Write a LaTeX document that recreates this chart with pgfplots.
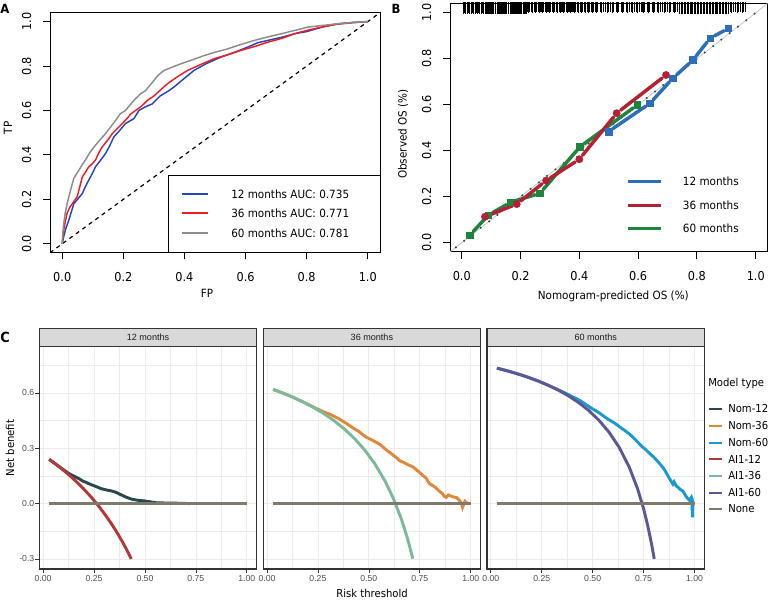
\documentclass[border=0pt]{standalone}
\usepackage{pgfplots}
\pgfplotsset{compat=1.18}
\usepackage{fontspec}
\setmainfont{DejaVu Sans}[FakeStretch=0.92]
\newfontfamily\ggfont{Liberation Sans}
\definecolor{rocblue}{RGB}{35,70,190}
\definecolor{rocred}{RGB}{238,30,36}
\definecolor{rocgray}{RGB}{140,140,140}
\definecolor{calblue}{RGB}{45,110,185}
\definecolor{calred}{RGB}{180,32,52}
\definecolor{calgreen}{RGB}{30,132,62}
\definecolor{calx}{RGB}{70,110,225}
\definecolor{dotc}{RGB}{40,70,65}
\definecolor{diaggray}{RGB}{200,200,200}
\definecolor{gg92}{RGB}{235,235,235}
\definecolor{gg85}{RGB}{217,217,217}
\definecolor{gg20}{RGB}{51,51,51}
\definecolor{gg30}{RGB}{77,77,77}
\definecolor{gg10}{RGB}{26,26,26}
\definecolor{nom12}{RGB}{40,72,78}
\definecolor{nom36}{RGB}{224,136,58}
\definecolor{nom60}{RGB}{28,154,206}
\definecolor{ai12}{RGB}{178,56,58}
\definecolor{ai36}{RGB}{126,184,154}
\definecolor{ai60}{RGB}{92,88,150}
\definecolor{nonec}{RGB}{128,122,108}
\newcommand\tickfont{\fontsize{9.2}{11}\selectfont}
\newcommand\labfont{\fontsize{8.5}{10}\selectfont}
\newcommand\ggtick{\ggfont\fontsize{6.5}{7.5}\selectfont}
\newcommand\ggstrip{\ggfont\fontsize{6.8}{8}\selectfont}
\newcommand\gglab{\fontsize{8.2}{10}\selectfont}
\pgfplotsset{
 rbase/.style={scale only axis, anchor=north west,
  xmin=-0.04,xmax=1.04,ymin=-0.04,ymax=1.04,
  axis line style={black,line width=0.75pt},
  tick align=outside, tick pos=left, major tick length=5pt,
  tick style={black,line width=0.75pt},
  xtick={0,0.2,0.4,0.6,0.8,1}, ytick={0,0.2,0.4,0.6,0.8,1},
  xticklabels={0.0,0.2,0.4,0.6,0.8,1.0}, yticklabels={0.0,0.2,0.4,0.6,0.8,1.0},
  xticklabel style={font=\tickfont, anchor=center, yshift=-13.2pt},
  yticklabel style={font=\tickfont, xshift=-12.5pt, rotate=90, anchor=center},
 },
 ggpanel/.style={scale only axis, anchor=north west, width=163.05pt, height=167.25pt,
  xmin=-0.0185, xmax=1.0485, ymin=-0.355, ymax=0.855,
  axis line style={draw=gg20,line width=0.8pt},
  xtick={0,0.25,0.5,0.75,1}, xticklabels={0.00,0.25,0.50,0.75,1.00},
  ytick={-0.3,0,0.3,0.6},
  minor xtick={0.125,0.375,0.625,0.875}, minor ytick={-0.15,0.15,0.45,0.75},
  grid=both, major grid style={draw=gg92,line width=0.55pt},
  minor grid style={draw=gg92,line width=0.3pt},
  tick align=outside, tick pos=left, major tick length=3pt, minor tick length=0pt,
  tick style={draw=gg20,line width=0.5pt},
  xticklabel style={font=\ggtick, text=gg30, anchor=center, yshift=-4pt},
  title style={at={(0.5,1)}, anchor=south, yshift=-6.75pt, fill=gg85, draw=gg20, line width=0.8pt,
   minimum width=163.05pt, minimum height=13.3pt, inner sep=0pt, font=\ggstrip, text=gg10},
 },
}
\begin{document}
\begin{tikzpicture}
\useasboundingbox (0,0) rectangle (578.25pt,-450.75pt);
% ---------------- Panel A ----------------
\begin{axis}[rbase, at={(37.5pt,-9.525pt)}, width=247.5pt, height=180pt]
\addplot[black, line width=0.9pt, dash pattern=on 3pt off 3pt] coordinates {(-0.04,-0.04)(1.04,1.04)};
\addplot[rocblue, line width=1.1pt] coordinates {
(0,0)(0.003,0.02)(0.005,0.033)(0.012,0.07)(0.022,0.108)(0.03,0.145)(0.038,0.18)(0.05,0.2)(0.066,0.227)(0.075,0.255)(0.087,0.287)(0.098,0.315)(0.109,0.347)(0.125,0.375)(0.142,0.407)(0.155,0.44)(0.169,0.481)(0.188,0.51)(0.207,0.541)(0.235,0.564)(0.251,0.6)(0.27,0.615)(0.295,0.63)(0.32,0.665)(0.35,0.69)(0.366,0.706)(0.4,0.745)(0.431,0.78)(0.47,0.81)(0.519,0.84)(0.56,0.86)(0.607,0.885)(0.64,0.905)(0.672,0.915)(0.72,0.93)(0.759,0.945)(0.8,0.955)(0.85,0.975)(0.9,0.99)(0.95,0.996)(1,1)};
\addplot[rocred, line width=1.1pt] coordinates {
(0,0)(0.003,0.04)(0.005,0.063)(0.01,0.1)(0.016,0.138)(0.025,0.165)(0.033,0.18)(0.049,0.212)(0.058,0.26)(0.066,0.302)(0.075,0.32)(0.087,0.347)(0.098,0.36)(0.109,0.377)(0.12,0.41)(0.131,0.436)(0.148,0.465)(0.164,0.496)(0.185,0.525)(0.207,0.556)(0.225,0.585)(0.24,0.6)(0.26,0.62)(0.279,0.646)(0.3,0.665)(0.32,0.69)(0.344,0.72)(0.375,0.75)(0.41,0.78)(0.45,0.805)(0.497,0.833)(0.54,0.85)(0.584,0.87)(0.63,0.888)(0.672,0.907)(0.72,0.925)(0.759,0.945)(0.8,0.96)(0.847,0.975)(0.9,0.988)(0.95,0.995)(1,1)};
\addplot[rocgray, line width=1.1pt] coordinates {
(0,0)(0.002,0.05)(0.005,0.093)(0.01,0.14)(0.016,0.18)(0.025,0.23)(0.038,0.295)(0.054,0.33)(0.065,0.355)(0.076,0.377)(0.09,0.41)(0.109,0.444)(0.125,0.47)(0.142,0.496)(0.158,0.525)(0.175,0.556)(0.19,0.585)(0.207,0.6)(0.225,0.63)(0.24,0.653)(0.257,0.676)(0.273,0.69)(0.3,0.735)(0.315,0.76)(0.333,0.78)(0.36,0.795)(0.388,0.81)(0.42,0.825)(0.464,0.847)(0.5,0.862)(0.541,0.877)(0.58,0.895)(0.628,0.915)(0.67,0.93)(0.716,0.945)(0.76,0.96)(0.803,0.975)(0.847,0.982)(0.9,0.99)(0.95,0.996)(1,1)};
\end{axis}
% legend A
\draw[black, line width=0.75pt, fill=white] (126.2pt,-131.25pt) rectangle (285pt,-189.525pt);
\draw[rocblue, line width=2pt] (136.5pt,-145.5pt) -- (156pt,-145.5pt);
\draw[rocred, line width=2pt] (136.5pt,-159.75pt) -- (156pt,-159.75pt);
\draw[rocgray, line width=2pt] (136.5pt,-174.75pt) -- (156pt,-174.75pt);
\node[anchor=west, inner sep=0pt, font=\labfont] at (173.25pt,-145.5pt) {12 months AUC: 0.735};
\node[anchor=west, inner sep=0pt, font=\labfont] at (173.25pt,-159.75pt) {36 months AUC: 0.771};
\node[anchor=west, inner sep=0pt, font=\labfont] at (173.25pt,-174.75pt) {60 months AUC: 0.781};
\node[font=\labfont] at (155.25pt,-219.75pt) {FP};
\node[font=\labfont, rotate=90] at (6pt,-96pt) {TP};
\node[font=\bfseries\fontsize{9.5}{11}\selectfont] at (3.75pt,-6.75pt) {A};
% ---------------- Panel B ----------------
\begin{axis}[rbase, at={(337.5pt,-2.625pt)}, width=238.125pt, height=186.3pt, clip=false, unbounded coords=jump]
\addplot[diaggray, line width=0.6pt] coordinates {(-0.04,-0.04)(1.04,1.04)};
\addplot[dotc, line width=1.7pt, line cap=round, dash pattern=on 0pt off 7.9pt] coordinates {(-0.02,-0.02)(1.02,1.02)};
\addplot[only marks, mark=|, mark size=4.5pt, black, mark options={line width=0.55pt}] coordinates {
(0.005,1.02)(0.012,1.02)(0.018,1.02)(0.026,1.02)(0.031,1.02)(0.039,1.02)(0.046,1.02)(0.052,1.02)(0.061,1.02)(0.067,1.02)(0.074,1.02)
(0.080,1.02)(0.083,1.02)(0.087,1.02)(0.091,1.02)(0.094,1.02)(0.098,1.02)(0.102,1.02)(0.105,1.02)(0.109,1.02)(0.113,1.02)(0.116,1.02)(0.120,1.02)(0.124,1.02)(0.127,1.02)(0.131,1.02)(0.135,1.02)(0.138,1.02)(0.142,1.02)(0.146,1.02)(0.149,1.02)(0.153,1.02)(0.157,1.02)(0.160,1.02)(0.164,1.02)(0.168,1.02)(0.171,1.02)(0.175,1.02)(0.179,1.02)(0.182,1.02)(0.186,1.02)(0.190,1.02)(0.193,1.02)(0.197,1.02)(0.201,1.02)(0.204,1.02)(0.208,1.02)(0.212,1.02)(0.215,1.02)(0.219,1.02)
(0.741,1.02)(0.746,1.02)(0.751,1.02)(0.756,1.02)(0.761,1.02)(0.766,1.02)(0.771,1.02)(0.776,1.02)(0.781,1.02)(0.786,1.02)(0.791,1.02)(0.796,1.02)(0.801,1.02)(0.806,1.02)(0.811,1.02)(0.816,1.02)(0.821,1.02)(0.826,1.02)(0.831,1.02)(0.836,1.02)(0.841,1.02)(0.846,1.02)(0.851,1.02)(0.856,1.02)(0.861,1.02)(0.866,1.02)(0.871,1.02)(0.876,1.02)(0.881,1.02)(0.886,1.02)(0.891,1.02)(0.896,1.02)(0.901,1.02)(0.906,1.02)};
\addplot[only marks, mark=|, mark size=3.8pt, black, mark options={line width=0.8pt}] coordinates {
(0.225,1.024)(0.231,1.024)(0.236,1.024)(0.242,1.024)(0.249,1.024)(0.254,1.024)(0.260,1.024)(0.267,1.024)(0.272,1.024)(0.278,1.024)(0.285,1.024)(0.290,1.024)(0.296,1.024)(0.303,1.024)(0.308,1.024)(0.314,1.024)(0.321,1.024)(0.326,1.024)(0.332,1.024)(0.339,1.024)(0.344,1.024)(0.350,1.024)(0.357,1.024)(0.362,1.024)(0.368,1.024)(0.375,1.024)(0.380,1.024)(0.386,1.024)(0.393,1.024)(0.398,1.024)(0.404,1.024)(0.411,1.024)(0.416,1.024)(0.422,1.024)(0.429,1.024)(0.434,1.024)(0.440,1.024)(0.447,1.024)
(0.455,1.024)(0.463,1.024)(0.472,1.024)(0.481,1.024)(0.490,1.024)(0.499,1.024)(0.507,1.024)(0.516,1.024)(0.525,1.024)(0.534,1.024)(0.543,1.024)(0.551,1.024)(0.560,1.024)(0.569,1.024)(0.578,1.024)(0.587,1.024)(0.595,1.024)(0.604,1.024)(0.613,1.024)(0.622,1.024)(0.631,1.024)(0.639,1.024)(0.648,1.024)(0.657,1.024)(0.666,1.024)(0.675,1.024)(0.683,1.024)(0.692,1.024)(0.701,1.024)(0.710,1.024)(0.719,1.024)(0.727,1.024)(0.735,1.024)
(0.914,1.024)(0.923,1.024)(0.931,1.024)(0.940,1.024)(0.949,1.024)(0.958,1.024)(0.966,1.024)};
\addplot[only marks, mark=|, mark size=4.2pt, black, mark options={line width=0.55pt}] coordinates {
(0.009,1.022)(0.022,1.022)(0.035,1.022)(0.049,1.022)(0.057,1.022)(0.070,1.022)
(0.228,1.022)(0.239,1.022)(0.252,1.022)(0.263,1.022)(0.275,1.022)(0.288,1.022)(0.299,1.022)(0.311,1.022)(0.324,1.022)(0.335,1.022)(0.347,1.022)(0.360,1.022)(0.371,1.022)(0.383,1.022)(0.396,1.022)(0.407,1.022)(0.419,1.022)(0.432,1.022)(0.443,1.022)
(0.459,1.022)(0.476,1.022)(0.494,1.022)(0.511,1.022)(0.529,1.022)(0.547,1.022)(0.564,1.022)(0.582,1.022)(0.599,1.022)(0.617,1.022)(0.635,1.022)(0.652,1.022)(0.670,1.022)(0.688,1.022)(0.705,1.022)(0.723,1.022)(0.918,1.022)(0.936,1.022)(0.953,1.022)};
% calibration lines (gaps at points)
\addplot[calgreen, line width=2.6pt, line cap=round] coordinates {
(0.0394,0.0491)(0.0786,0.1039)(nan,nan)(0.1048,0.1308)(0.1522,0.1653)(nan,nan)(0.1832,0.1824)(0.2498,0.2086)(nan,nan)(0.2771,0.2315)(0.3909,0.4005)(nan,nan)(0.4157,0.4298)(0.5833,0.5862)};
\addplot[calred, line width=2.6pt, line cap=round] coordinates {
(0.0948,0.1210)(0.1712,0.1600)(nan,nan)(0.2003,0.1816)(0.2737,0.2564)(nan,nan)(0.3013,0.2818)(0.3857,0.3512)(nan,nan)(0.4107,0.3799)(0.5163,0.5461)(nan,nan)(0.5405,0.5763)(0.6815,0.7157)};
\addplot[calblue, line width=2.6pt, line cap=round] coordinates {
(0.5130,0.4953)(0.6260,0.5938)(nan,nan)(0.6515,0.6220)(0.7065,0.6990)(nan,nan)(0.7306,0.7296)(0.7734,0.7794)(nan,nan)(0.7966,0.8110)(0.8344,0.8720)(nan,nan)(0.8600,0.8994)(0.8920,0.9216)};
\addplot[only marks, mark=x, mark size=3.1pt, calx, mark options={line width=0.45pt}] coordinates {(0.028,0.033)(0.09,0.12)(0.167,0.176)(0.266,0.215)(0.402,0.417)(0.597,0.599)(0.079,0.113)(0.187,0.168)(0.287,0.27)(0.4,0.363)(0.527,0.563)(0.695,0.729)(0.499,0.483)(0.64,0.606)(0.718,0.715)(0.786,0.794)(0.845,0.889)(0.907,0.932)};
\addplot[only marks, mark=square*, mark size=2.5pt, calgreen] coordinates {(0.028,0.033)(0.09,0.12)(0.167,0.176)(0.266,0.215)(0.402,0.417)(0.597,0.599)};
\addplot[only marks, mark=*, mark size=2.7pt, calred] coordinates {(0.079,0.113)(0.187,0.168)(0.287,0.27)(0.4,0.363)(0.527,0.563)(0.695,0.729)};
\addplot[only marks, mark=square*, mark size=2.5pt, calblue] coordinates {(0.499,0.483)(0.64,0.606)(0.718,0.715)(0.786,0.794)(0.845,0.889)(0.907,0.932)};
\end{axis}
\draw[calblue, line width=2.5pt] (470.8pt,-136pt) -- (495.75pt,-136pt);
\draw[calred, line width=2.5pt] (470.8pt,-154pt) -- (495.75pt,-154pt);
\draw[calgreen, line width=2.5pt] (470.8pt,-171.5pt) -- (495.75pt,-171.5pt);
\node[anchor=west, inner sep=0pt, font=\labfont] at (512pt,-136pt) {12 months};
\node[anchor=west, inner sep=0pt, font=\labfont] at (512pt,-154pt) {36 months};
\node[anchor=west, inner sep=0pt, font=\labfont] at (512pt,-171.5pt) {60 months};
\node[font=\labfont] at (460pt,-222pt) {Nomogram-predicted OS (\%)};
\node[font=\labfont, rotate=90] at (302.25pt,-100.5pt) {Observed OS (\%)};
\node[font=\bfseries\fontsize{9.5}{11}\selectfont] at (297pt,-6.75pt) {B};
% ---------------- Panel C ----------------
\begin{axis}[ggpanel, at={(29.475pt,-259.5pt)}, title={12 months},
  yticklabels={-0.3,0.0,0.3,0.6}, yticklabel style={font=\ggtick, text=gg30, anchor=east, xshift=2.75pt}]
\addplot[nom12, line width=2.2pt] coordinates {
(0.030,0.240)(0.045,0.228)(0.06,0.216)(0.075,0.204)(0.09,0.192)(0.105,0.180)(0.12,0.168)(0.135,0.158)(0.15,0.150)(0.165,0.141)(0.18,0.133)(0.195,0.122)(0.21,0.116)(0.225,0.108)(0.24,0.101)(0.255,0.095)(0.27,0.088)(0.285,0.081)(0.30,0.077)(0.315,0.073)(0.33,0.070)(0.345,0.066)(0.36,0.060)(0.375,0.052)(0.39,0.044)(0.405,0.036)(0.42,0.030)(0.435,0.024)(0.45,0.021)(0.465,0.018)(0.48,0.016)(0.495,0.015)(0.51,0.012)(0.525,0.010)(0.54,0.007)(0.56,0.004)(0.58,0.004)(0.60,0.003)(0.63,0.003)(0.66,0.002)(0.69,0.001)(0.72,0.000)};
\addplot[ai12, line width=2.2pt] coordinates {
(0.03,0.2402)(0.06,0.2160)(0.09,0.1901)(0.12,0.1625)(0.15,0.1329)(0.18,0.1012)(0.21,0.0671)(0.24,0.0302)(0.27,-0.0096)(0.30,-0.0529)(0.33,-0.1000)(0.36,-0.1516)(0.39,-0.2082)(0.41,-0.2492)(0.433,-0.300)};
\addplot[nonec, line width=2pt] coordinates {(0.03,0)(1.0,0)};
\end{axis}
\begin{axis}[ggpanel, at={(197.4pt,-259.5pt)}, title={36 months}, yticklabels={}, major y tick style={draw=none}]
\addplot[nom36, line width=2.2pt] coordinates {
(0.03,0.6196)(0.08,0.5989)(0.13,0.5759)(0.18,0.550)(0.22,0.528)(0.25,0.512)(0.28,0.497)(0.30,0.489)(0.325,0.476)(0.35,0.462)(0.37,0.448)(0.39,0.435)(0.407,0.422)(0.43,0.405)(0.45,0.392)(0.47,0.374)(0.489,0.359)(0.51,0.348)(0.53,0.336)(0.554,0.322)(0.57,0.306)(0.585,0.292)(0.603,0.277)(0.62,0.262)(0.635,0.250)(0.652,0.232)(0.67,0.224)(0.69,0.212)(0.717,0.199)(0.735,0.182)(0.75,0.168)(0.766,0.151)(0.78,0.140)(0.79,0.120)(0.80,0.106)(0.815,0.097)(0.83,0.085)(0.845,0.068)(0.86,0.055)(0.87,0.040)(0.88,0.034)(0.89,0.047)(0.90,0.042)(0.915,0.036)(0.93,0.033)(0.94,0.022)(0.946,0.016)(0.953,0.004)(0.96,-0.020)(0.965,-0.005)(0.972,0.012)(0.978,0.004)(0.985,0.002)};
\addplot[ai36, line width=2.2pt] coordinates {
(0.03,0.6196)(0.08,0.5989)(0.13,0.5759)(0.18,0.550)(0.23,0.5208)(0.28,0.4875)(0.33,0.4493)(0.38,0.4048)(0.43,0.3526)(0.48,0.2904)(0.53,0.2149)(0.58,0.1214)(0.62,0.029)(0.66,-0.0853)(0.69,-0.1903)(0.716,-0.2993)};
\addplot[nonec, line width=2pt] coordinates {(0.03,0)(1.0,0)};
\end{axis}
\begin{axis}[ggpanel, at={(365.25pt,-259.5pt)}, title={60 months}, yticklabels={}, major y tick style={draw=none}]
\addplot[nom60, line width=2.2pt] coordinates {
(0.03,0.735)(0.08,0.7206)(0.13,0.7046)(0.18,0.6866)(0.23,0.6662)(0.28,0.643)(0.33,0.618)(0.355,0.605)(0.38,0.592)(0.40,0.580)(0.42,0.570)(0.436,0.560)(0.455,0.547)(0.47,0.535)(0.49,0.520)(0.518,0.502)(0.535,0.490)(0.55,0.478)(0.565,0.466)(0.58,0.455)(0.60,0.442)(0.62,0.427)(0.64,0.410)(0.66,0.395)(0.681,0.377)(0.70,0.357)(0.72,0.335)(0.74,0.312)(0.763,0.290)(0.78,0.272)(0.80,0.252)(0.82,0.228)(0.845,0.196)(0.86,0.170)(0.875,0.140)(0.885,0.122)(0.894,0.106)(0.90,0.118)(0.91,0.096)(0.92,0.088)(0.93,0.076)(0.943,0.068)(0.955,0.045)(0.965,0.030)(0.975,0.018)(0.982,0.030)(0.987,0.008)(0.99,-0.074)(0.992,0.010)(0.995,0.0)};
\addplot[ai60, line width=2.2pt] coordinates {
(0.03,0.7350)(0.08,0.7206)(0.13,0.7046)(0.18,0.6866)(0.23,0.6662)(0.28,0.643)(0.33,0.6164)(0.38,0.5855)(0.43,0.5491)(0.48,0.5058)(0.53,0.4532)(0.58,0.3881)(0.63,0.3054)(0.68,0.1969)(0.72,0.0821)(0.75,-0.028)(0.77,-0.1174)(0.79,-0.2238)(0.8023,-0.300)};
\addplot[nonec, line width=2pt] coordinates {(0.03,0)(1.0,0)};
\end{axis}
% legend C
\node[anchor=west, inner sep=0pt, font=\gglab] at (531pt,-287.25pt) {Model type};
\draw[nom12, line width=1.9pt] (531.75pt,-306.75pt) -- (541.5pt,-306.75pt);
\draw[nom36, line width=1.9pt] (531.75pt,-319.5pt) -- (541.5pt,-319.5pt);
\draw[nom60, line width=1.9pt] (531.75pt,-332.25pt) -- (541.5pt,-332.25pt);
\draw[ai12, line width=1.9pt] (531.75pt,-344.25pt) -- (541.5pt,-344.25pt);
\draw[ai36, line width=1.9pt] (531.75pt,-357pt) -- (541.5pt,-357pt);
\draw[ai60, line width=1.9pt] (531.75pt,-369.75pt) -- (541.5pt,-369.75pt);
\draw[nonec, line width=1.9pt] (531.75pt,-381.75pt) -- (541.5pt,-381.75pt);
\node[anchor=west, inner sep=0pt, font=\gglab] at (546pt,-306.75pt) {Nom-12};
\node[anchor=west, inner sep=0pt, font=\gglab] at (546pt,-319.5pt) {Nom-36};
\node[anchor=west, inner sep=0pt, font=\gglab] at (546pt,-332.25pt) {Nom-60};
\node[anchor=west, inner sep=0pt, font=\gglab] at (546pt,-344.25pt) {AI1-12};
\node[anchor=west, inner sep=0pt, font=\gglab] at (546pt,-357pt) {AI1-36};
\node[anchor=west, inner sep=0pt, font=\gglab] at (546pt,-369.75pt) {AI1-60};
\node[anchor=west, inner sep=0pt, font=\gglab] at (546pt,-381.75pt) {None};
\node[font=\gglab, rotate=90] at (7.5pt,-336pt) {Net benefit};
\node[font=\gglab] at (279pt,-444.75pt) {Risk threshold};
\node[font=\bfseries\fontsize{10.5}{12}\selectfont] at (3.75pt,-252.75pt) {C};
\end{tikzpicture}
\end{document}
